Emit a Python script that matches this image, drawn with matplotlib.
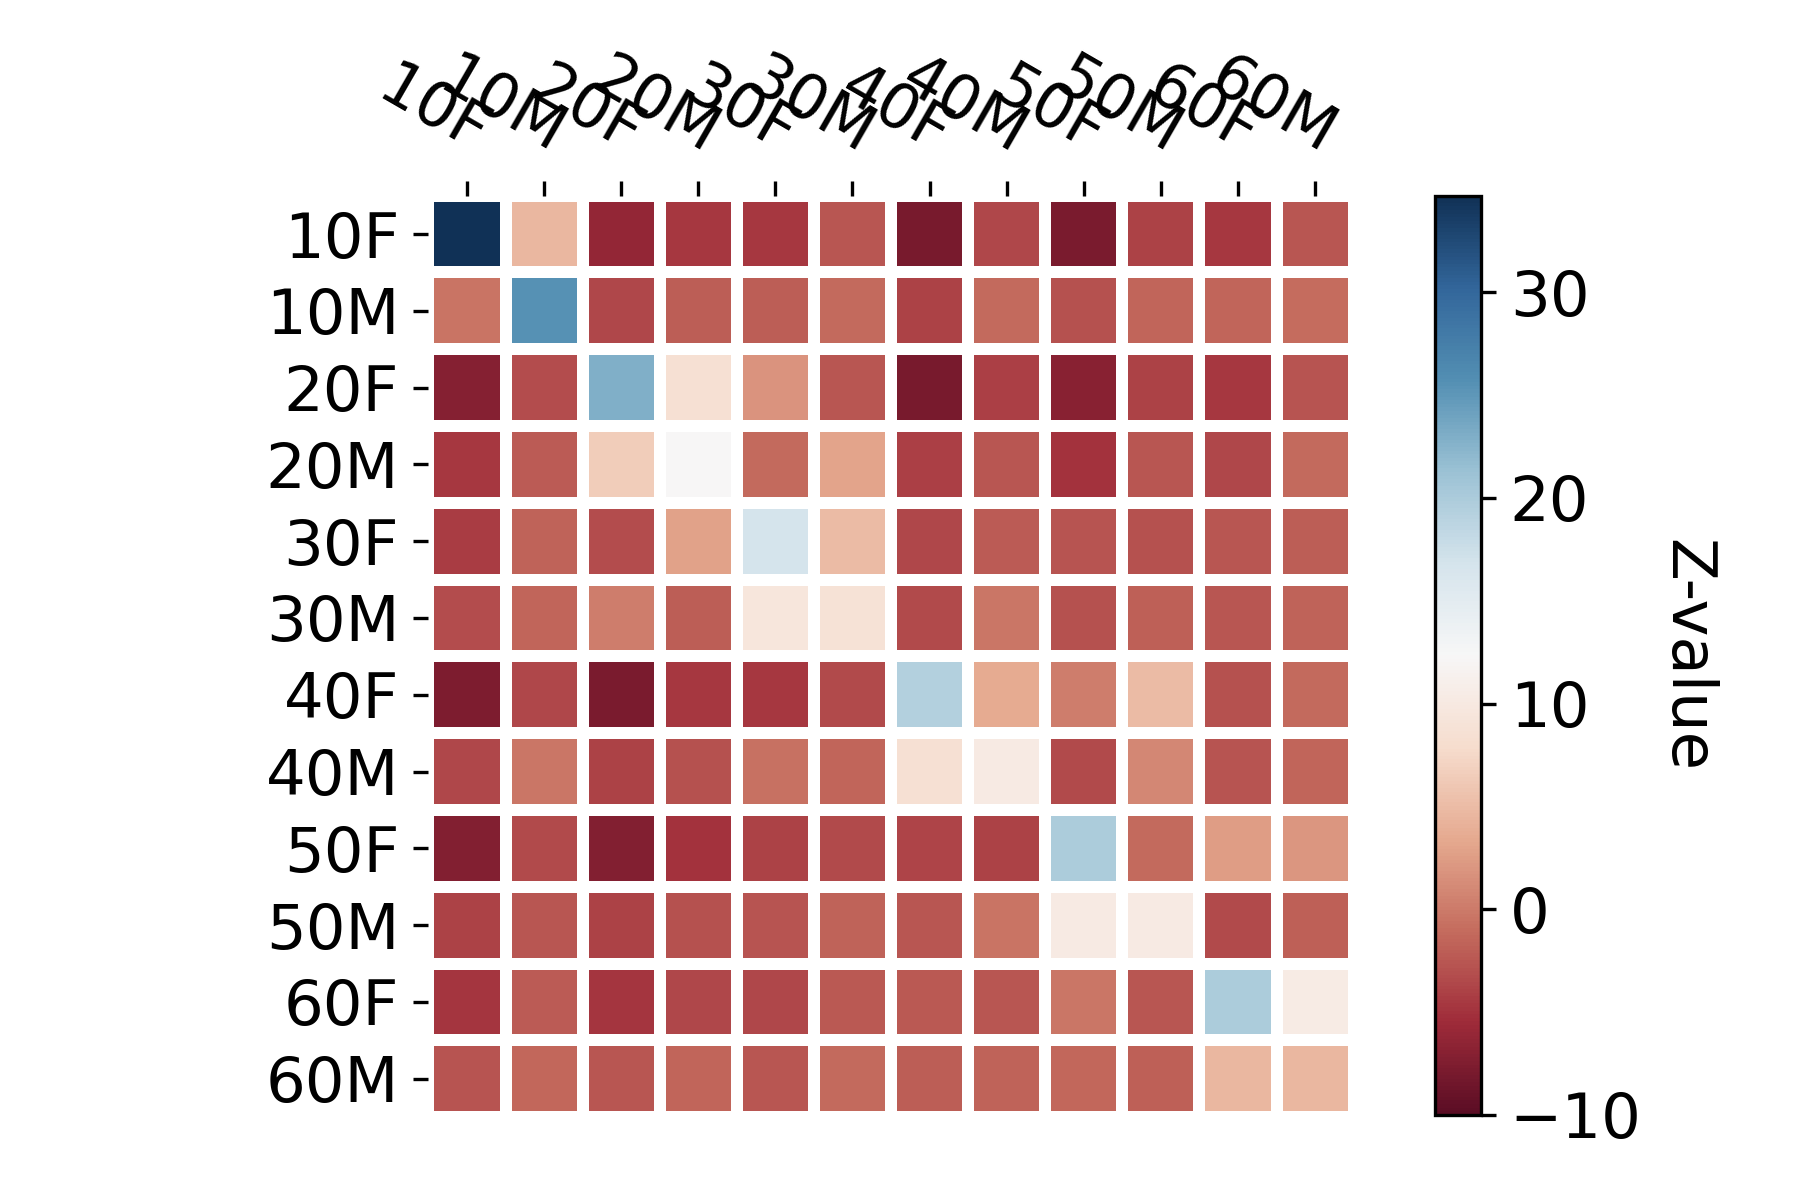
import colorsys

import matplotlib
matplotlib.use("Agg")
import matplotlib.pyplot as plt
import numpy as np
from matplotlib.colors import ListedColormap

groups = ["10F", "10M", "20F", "20M", "30F", "30M",
          "40F", "40M", "50F", "50M", "60F", "60M"]

# one row of z-values per group (columns in the same order as groups)
z_10F = [34.7, 4.5, -6.3, -4.6, -4.6, -2.5, -8.0, -3.6, -7.8, -4.0, -4.6, -2.5]
z_10M = [-0.5, 25.5, -3.6, -2.0, -2.0, -1.2, -4.0, -1.2, -3.0, -1.5, -1.5, -1.0]
z_20F = [-7.2, -3.3, 22.9, 8.5, 1.8, -2.5, -8.0, -4.2, -7.0, -4.0, -4.6, -2.7]
z_20M = [-4.6, -2.3, 6.5, 12.3, -1.2, 3.0, -4.2, -2.5, -5.0, -2.5, -3.6, -1.2]
z_30F = [-4.3, -1.7, -3.2, 2.8, 16.8, 5.0, -3.6, -2.3, -2.7, -3.0, -2.6, -2.0]
z_30M = [-3.2, -1.5, 0.2, -2.0, 9.5, 8.7, -3.4, -0.3, -3.0, -1.9, -2.6, -1.7]
z_40F = [-7.6, -3.6, -7.8, -4.6, -4.6, -3.4, 19.5, 3.5, 0.3, 5.0, -3.0, -1.2]
z_40M = [-3.6, -0.3, -4.0, -3.0, -0.6, -1.5, 8.5, 10.2, -3.4, 1.0, -2.8, -1.6]
z_50F = [-7.3, -3.4, -7.3, -5.0, -4.0, -3.4, -3.8, -3.9, 20.0, -1.2, 2.5, 2.0]
z_50M = [-4.0, -2.5, -4.0, -3.0, -2.8, -1.7, -2.6, -0.5, 10.2, 10.2, -3.4, -1.8]
z_60F = [-4.8, -2.3, -4.8, -3.6, -3.6, -2.4, -2.4, -2.6, -0.3, -2.6, 20.0, 10.3]
z_60M = [-2.8, -1.3, -2.6, -1.6, -2.6, -1.2, -2.1, -1.7, -1.3, -1.8, 4.5, 4.5]

z = np.array([z_10F, z_10M, z_20F, z_20M, z_30F, z_30M,
              z_40F, z_40M, z_50F, z_50M, z_60F, z_60M])


def desaturated(name, prop=0.75, n=256):
    # same trick as seaborn's saturation: scale HLS saturation down
    base = plt.get_cmap(name)
    colors = []
    for r, g, b, _ in base(np.linspace(0, 1, n)):
        h, l, s = colorsys.rgb_to_hls(r, g, b)
        colors.append(colorsys.hls_to_rgb(h, l, s * prop))
    return ListedColormap(colors)


plt.rcParams["font.size"] = 15

fig = plt.figure(figsize=(6, 4), dpi=300)
ax = fig.add_axes([0.238, 0.069, 0.514, 0.768])
cax = fig.add_axes([0.797, 0.071, 0.0256, 0.766])

mesh = ax.pcolormesh(z, cmap=desaturated("RdBu"), vmin=-10, vmax=z.max(),
                     edgecolors="white", linewidth=2.5)
ax.set_xlim(0, len(groups))
ax.set_ylim(len(groups), 0)

centers = np.arange(len(groups)) + 0.5
ax.set_xticks(centers)
ax.set_yticks(centers)
ax.set_yticklabels(groups)
ax.xaxis.tick_top()
ax.set_xticklabels(groups, rotation=-30, ha="right", rotation_mode="anchor")
for side in ax.spines.values():
    side.set_visible(False)

cbar = fig.colorbar(mesh, cax=cax)
cbar.set_ticks([-10, 0, 10, 20, 30])
cbar.set_label("Z-value", rotation=270, labelpad=18)

fig.savefig("out.png", dpi=300)
plt.close(fig)
